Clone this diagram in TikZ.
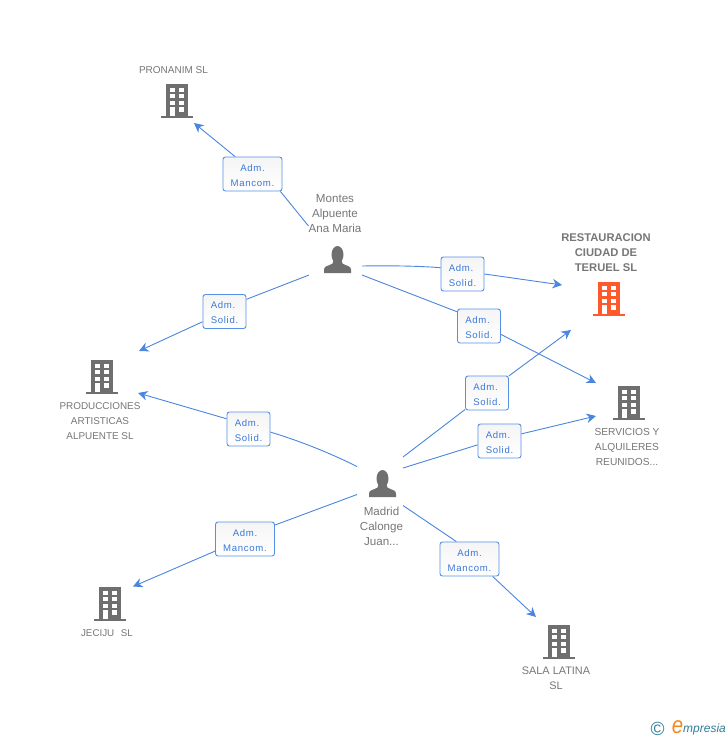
\documentclass[tikz,border=0pt]{standalone}
\usepackage{fontspec}
\setmainfont{Liberation Sans}
\newfontfamily\rolefont[LetterSpace=7]{Liberation Sans}
\usetikzlibrary{arrows.meta,shadings}
\definecolor{linkblue}{HTML}{4A86E0}
\definecolor{boxblue}{HTML}{5590E6}
\definecolor{labelblue}{HTML}{3A78D8}
\definecolor{icongray}{HTML}{6F6F6F}
\definecolor{textgray}{HTML}{777777}
\definecolor{iconred}{HTML}{FF5A2C}
\definecolor{logoteal}{HTML}{2F7F99}
\definecolor{logoorange}{HTML}{F58A1F}
\tikzset{
  link/.style={draw=linkblue,line width=0.9pt},
  arrowlink/.style={link,-{Stealth[length=9.5pt,width=9.5pt,inset=3pt]}},
  rolebox/.style={draw=boxblue,line width=0.9pt,rounded corners=2.5pt,top color=black!4,bottom color=white,
    text=labelblue,font=\rolefont\fontsize{9.6}{15}\selectfont,minimum height=34pt,inner sep=0pt,text height=24pt,text depth=0pt},
  solid box/.style={rolebox,align=left,minimum width=43pt},
  mancom box/.style={rolebox,align=center,minimum width=59pt},
  caption/.style={text=textgray,font=\fontsize{#1}{15}\selectfont,align=center,inner sep=0pt},
  caption/.default=10.3,
  boldcaption/.style={caption,font=\bfseries\fontsize{11.2}{15}\selectfont},
  iconspot/.style={minimum size=1pt,inner sep=0pt},
  pics/building/.style={code={
    \fill[#1] (-11,-17) rectangle (11,14.5);
    \fill[#1] (-16,14.5) rectangle (16,17);
    \foreach \yy in {-13.5,-7,-0.3} {
      \fill[white] (-7,\yy) rectangle (-2.5,\yy+4.3);
      \fill[white] (2.3,\yy) rectangle (7,\yy+4.3);
    }
    \fill[white] (2.3,6.2) rectangle (7,10.5);
    \fill[white] (-7,6.2) rectangle (-2.5,14.5);
  }},
  pics/person/.style={code={
    \fill[icongray] (0,-4.3) ellipse (6 and 8.7);
    \fill[icongray] (-13.5,14) -- (-13.5,10.5) .. controls (-13.5,7) and (-9,7) .. (-5,4.5) -- (-3.5,0) -- (3.5,0) -- (5,4.5)
       .. controls (9,7) and (13.5,7) .. (13.5,10.5) -- (13.5,14) -- cycle;
  }}
}
\begin{document}
\begin{tikzpicture}[x=1pt,y=-1pt]
\useasboundingbox (0,0) rectangle (728,740);
\fill[white] (0,0) rectangle (728,740);

% icons
\node[iconspot] (pronanim) at (177,101) {}; \pic at (pronanim) {building=icongray};
\node[iconspot] (restaur) at (609,299) {}; \pic at (restaur) {building=iconred};
\node[iconspot] (servicios) at (629,403) {}; \pic at (servicios) {building=icongray};
\node[iconspot] (producc) at (102,377) {}; \pic at (producc) {building=icongray};
\node[iconspot] (jeciju) at (110,604) {}; \pic at (jeciju) {building=icongray};
\node[iconspot] (sala) at (559,642) {}; \pic at (sala) {building=icongray};
\node[iconspot] (montes) at (337.5,259) {}; \pic at (montes) {person};
\node[iconspot] (madrid) at (382.5,483) {}; \pic at (madrid) {person};

% captions
\node[caption=10] (cap1) at (173.5,70) {PRONANIM SL};
\node[boldcaption] (cap2) at (606,252.5) {RESTAURACION\\CIUDAD DE\\TERUEL SL};
\node[caption=10.2] (cap3) at (627,447) {SERVICIOS Y\\ALQUILERES\\REUNIDOS...};
\node[caption=9.9] (cap4) at (100,421) {PRODUCCIONES\\ARTISTICAS\\ALPUENTE SL};
\node[caption=9.8] (cap5) at (107,633) {JECIJU\hspace{0.4em} SL};
\node[caption=10.9] (cap6) at (556,678.5) {SALA LATINA\\SL};
\node[caption=11.6] (cap7) at (335,213.7) {Montes\\Alpuente\\Ana Maria};
\node[caption=11.6] (cap8) at (381.5,526) {Madrid\\Calonge\\Juan...};

% connector free ends
\coordinate (m1) at (308.5,226);
\coordinate (m2) at (362,266);
\coordinate (m3) at (362,275);
\coordinate (m4) at (309,275);
\coordinate (d1) at (403,457);
\coordinate (d2) at (403,468);
\coordinate (d3) at (357,466.5);
\coordinate (d4) at (357,494.5);
\coordinate (d5) at (403,505.5);
\coordinate (t1) at (194,123);
\coordinate (t2) at (562,285);
\coordinate (t3) at (596,383);
\coordinate (t4) at (139,351);
\coordinate (t5) at (571,330);
\coordinate (t6) at (596,416);
\coordinate (t7) at (138,393);
\coordinate (t8) at (133,586.5);
\coordinate (t9) at (536,617);

% role boxes
\node[mancom box] (b1) at (252.5,174) {Adm.\\Mancom.};
\node[solid box] (b2) at (462.5,274) {Adm.\\Solid.};
\node[solid box] (b3) at (479,326) {Adm.\\Solid.};
\node[solid box] (b4) at (224.5,311.5) {Adm.\\Solid.};
\node[solid box] (b5) at (487,393) {Adm.\\Solid.};
\node[solid box] (b6) at (499.5,441) {Adm.\\Solid.};
\node[solid box] (b7) at (248.5,429) {Adm.\\Solid.};
\node[mancom box] (b8) at (245,539) {Adm.\\Mancom.};
\node[mancom box] (b9) at (469.5,559) {Adm.\\Mancom.};

% connectors
\draw[link] (m1) -- (b1.-32);
\draw[arrowlink] (b1.135) -- (t1);
\draw[link] (m2) .. controls (390,265.5) and (420,266) .. (b2.164);
\draw[arrowlink] (b2.0) -- (t2);
\draw[link] (m3) -- (b3.147);
\draw[arrowlink] (b3.-21) -- (t3);
\draw[link] (m4) -- (b4.29);
\draw[arrowlink] (b4.205) -- (t4);
\draw[link] (d1) -- (b5.217);
\draw[arrowlink] (b5.38) -- (t5);
\draw[link] (d2) -- (b6.190);
\draw[arrowlink] (b6.18) -- (t6);
\draw[link] (d3) .. controls (330,453) and (300,441) .. (b7.-8);
\draw[arrowlink] (b7.155) -- (t7);
\draw[link] (d4) -- (b8.25);
\draw[arrowlink] (b8.202) -- (t8);
\draw[link] (d5) -- (b9.127);
\draw[arrowlink] (b9.-37) -- (t9);

% logo
\node[text=logoteal,inner sep=0pt,font=\fontsize{19}{19}\selectfont] (copy) at (657.5,729) {©};
\node[text=logoorange,inner sep=0pt,xscale=0.85,font=\itshape\fontsize{24}{24}\selectfont] (elogo) at (677.5,727) {e};
\node[text=logoteal,inner sep=0pt,anchor=west,font=\itshape\fontsize{12}{12}\selectfont] (wlogo) at (683,729.5) {mpresia};
\end{tikzpicture}
\end{document}
